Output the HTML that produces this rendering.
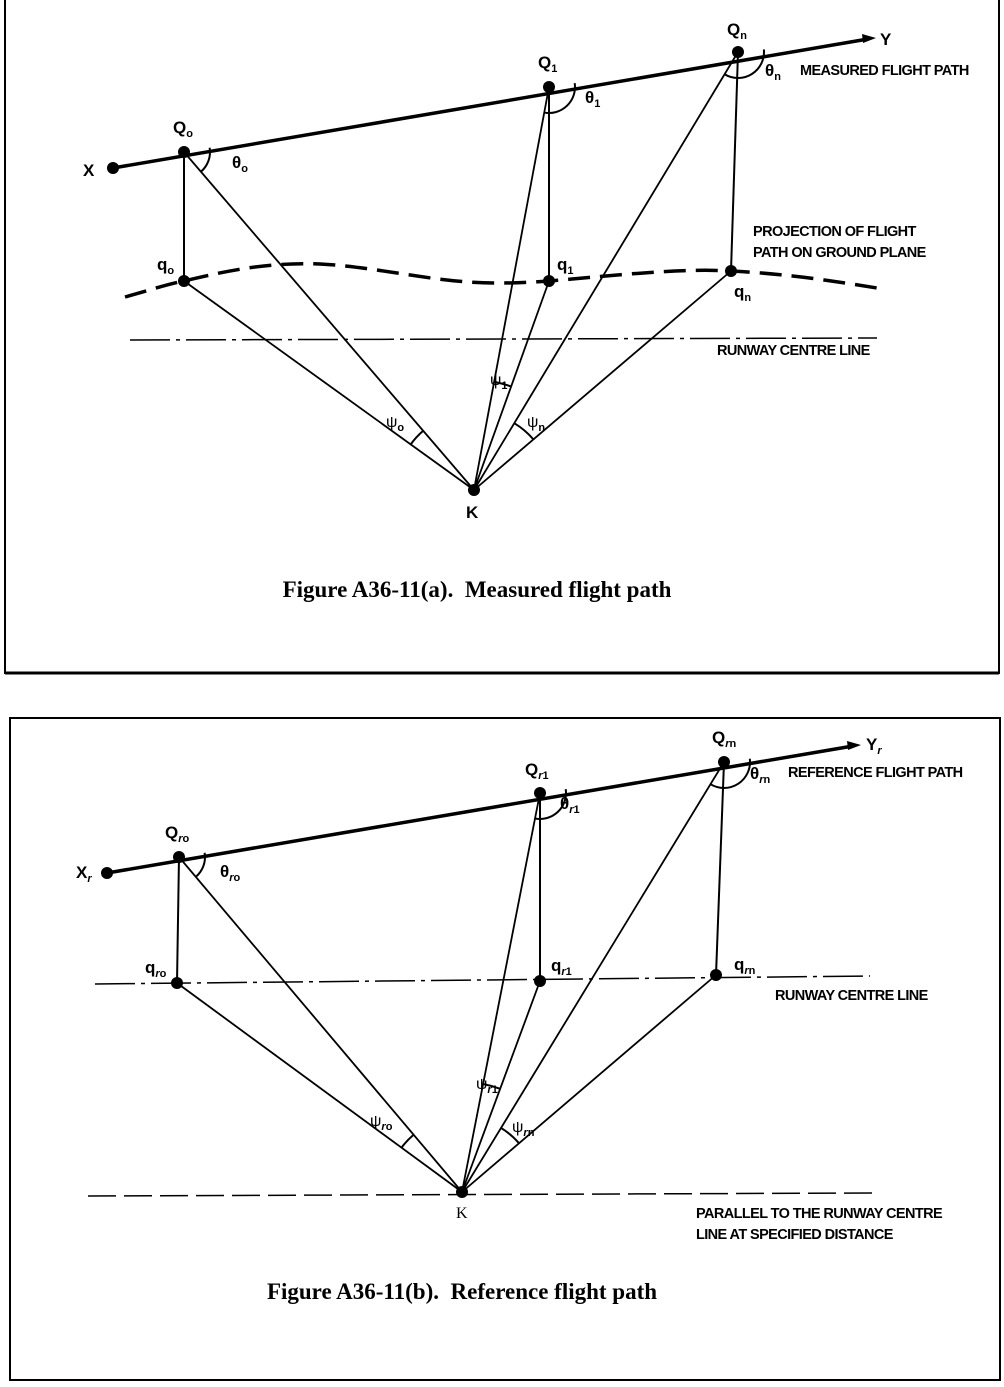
<!DOCTYPE html>
<html><head><meta charset="utf-8"><style>
body{margin:0;background:#fff}
svg{display:block}
text{font-family:"Liberation Sans",Arial,sans-serif;fill:#000}
.cap{font-family:"Liberation Serif",serif;font-weight:bold;font-size:23px}
.lb{font-size:14.5px;font-weight:bold;letter-spacing:-0.6px}
.pt{font-size:17px;font-weight:bold}
.sub{font-size:11px;font-weight:bold}
.ps{font-size:16px;font-weight:normal}
</style></head><body>
<svg id="s" width="1004" height="1387" viewBox="0 0 1004 1387" xmlns="http://www.w3.org/2000/svg">
<rect x="5" y="-2" width="994" height="675" fill="none" stroke="#000" stroke-width="2"/>
<line x1="5" y1="673" x2="999" y2="673" stroke="#000" stroke-width="3"/>
<rect x="10" y="718" width="990" height="662" fill="none" stroke="#000" stroke-width="2"/>
<g id="g"></g>
<text class="cap" x="477" y="597" text-anchor="middle">Figure A36-11(a).&#160; Measured flight path</text>
<text class="cap" x="462" y="1299" text-anchor="middle">Figure A36-11(b).&#160; Reference flight path</text>
<g>
<text class="pt" x="83" y="176">X</text>
<text class="pt" x="173" y="133">Q<tspan class="sub" dy="4">o</tspan></text>
<text class="pt" x="538" y="68">Q<tspan class="sub" dy="4">1</tspan></text>
<text class="pt" x="727" y="35">Q<tspan class="sub" dy="4">n</tspan></text>
<text class="pt" x="880" y="45">Y</text>
<text class="pt" x="232" y="168">θ<tspan class="sub" dy="4">o</tspan></text>
<text class="pt" x="585" y="103">θ<tspan class="sub" dy="4">1</tspan></text>
<text class="pt" x="765" y="76">θ<tspan class="sub" dy="4">n</tspan></text>
<text class="pt" x="157" y="270">q<tspan class="sub" dy="4">o</tspan></text>
<text class="pt" x="557" y="270">q<tspan class="sub" dy="4">1</tspan></text>
<text class="pt" x="734" y="297">q<tspan class="sub" dy="4">n</tspan></text>
<text class="pt ps" x="386" y="427">ψ<tspan class="sub" dy="4">o</tspan></text>
<text class="pt ps" x="490" y="385">ψ<tspan class="sub" dy="4">1</tspan></text>
<text class="pt ps" x="527" y="427">ψ<tspan class="sub" dy="4">n</tspan></text>
<text class="pt" x="466" y="518">K</text>
<text class="lb" x="800" y="75">MEASURED FLIGHT PATH</text>
<text class="lb" x="753" y="236">PROJECTION OF FLIGHT</text>
<text class="lb" x="753" y="257">PATH ON GROUND PLANE</text>
<text class="lb" x="717" y="355">RUNWAY CENTRE LINE</text>
</g>
<g>
<text class="pt" x="76" y="878">X<tspan class="sub" dy="4" font-style="italic">r</tspan></text>
<text class="pt" x="165" y="838">Q<tspan class="sub" dy="4"><tspan font-style="italic">r</tspan>o</tspan></text>
<text class="pt" x="525" y="775">Q<tspan class="sub" dy="4"><tspan font-style="italic">r</tspan>1</tspan></text>
<text class="pt" x="712" y="743">Q<tspan class="sub" dy="4"><tspan font-style="italic">r</tspan>n</tspan></text>
<text class="pt" x="866" y="750">Y<tspan class="sub" dy="4" font-style="italic">r</tspan></text>
<text class="pt" x="220" y="877">θ<tspan class="sub" dy="4"><tspan font-style="italic">r</tspan>o</tspan></text>
<text class="pt" x="560" y="809">θ<tspan class="sub" dy="4"><tspan font-style="italic">r</tspan>1</tspan></text>
<text class="pt" x="750" y="779">θ<tspan class="sub" dy="4"><tspan font-style="italic">r</tspan>n</tspan></text>
<text class="pt" x="145" y="973">q<tspan class="sub" dy="4"><tspan font-style="italic">r</tspan>o</tspan></text>
<text class="pt" x="551" y="971">q<tspan class="sub" dy="4"><tspan font-style="italic">r</tspan>1</tspan></text>
<text class="pt" x="734" y="970">q<tspan class="sub" dy="4"><tspan font-style="italic">r</tspan>n</tspan></text>
<text class="pt ps" x="370" y="1126">ψ<tspan class="sub" dy="4"><tspan font-style="italic">r</tspan>o</tspan></text>
<text class="pt ps" x="476" y="1089">ψ<tspan class="sub" dy="4"><tspan font-style="italic">r</tspan>1</tspan></text>
<text class="pt ps" x="512" y="1132">ψ<tspan class="sub" dy="4"><tspan font-style="italic">r</tspan>n</tspan></text>
<text x="456" y="1218" style="font-family:'Liberation Serif',serif;font-size:16px">K</text>
<text class="lb" x="788" y="777">REFERENCE FLIGHT PATH</text>
<text class="lb" x="775" y="1000">RUNWAY CENTRE LINE</text>
<text class="lb" x="696" y="1218">PARALLEL TO THE RUNWAY CENTRE</text>
<text class="lb" x="696" y="1239">LINE AT SPECIFIED DISTANCE</text>
</g>
</svg>
<script>
const NS="http://www.w3.org/2000/svg";
const g=document.getElementById('g');
function el(t,a){const e=document.createElementNS(NS,t);for(const k in a)e.setAttribute(k,a[k]);g.appendChild(e);return e;}
function line(a,b,w,dash,name){const e=el('line',{x1:a[0],y1:a[1],x2:b[0],y2:b[1],stroke:'#000','stroke-width':w});if(dash)e.setAttribute('stroke-dasharray',dash);

return e;}
function dot(p,name){const e=el('circle',{cx:p[0],cy:p[1],r:6,fill:'#000'});

}
function arc(c,a,b,r,name){let t1=Math.atan2(a[1]-c[1],a[0]-c[0]),t2=Math.atan2(b[1]-c[1],b[0]-c[0]);
let d=t2-t1;while(d>Math.PI)d-=2*Math.PI;while(d<-Math.PI)d+=2*Math.PI;
const p1=[c[0]+r*Math.cos(t1),c[1]+r*Math.sin(t1)],p2=[c[0]+r*Math.cos(t1+d),c[1]+r*Math.sin(t1+d)];
const e=el('path',{d:`M${p1[0]} ${p1[1]} A${r} ${r} 0 0 ${d>0?1:0} ${p2[0]} ${p2[1]}`,fill:'none',stroke:'#000','stroke-width':2});

}
function panel(P,pre){
 line(P.X,P.Yend,3.5,null,pre+'flight-path');
 el('polygon',{points:`${P.Yend[0]+8},${P.Yend[1]-1} ${P.Yend[0]-6},${P.Yend[1]-5} ${P.Yend[0]-5},${P.Yend[1]+4}`,fill:'#000'});
 if(P.curve){const e=el('path',{d:P.curve,fill:'none',stroke:'#000','stroke-width':3.5,'stroke-dasharray':'22 10'});
 
 }
 line(P.rw[0],P.rw[1],1.5,'40 6 4 6',pre+'runway-centre-line');
 if(P.par){line(P.par[0],P.par[1],1.5,'28 8',pre+'parallel-line');}
 for(let i=0;i<3;i++){
  line(P.Q[i],P.q[i],2,null,pre+'vertical-'+i);
  line(P.Q[i],P.K,1.8,null,pre+'slant-'+i);
  line(P.q[i],P.K,1.8,null,pre+'ground-line-'+i);
 }
 dot(P.X,pre+'point-x');P.Q.forEach((p,i)=>dot(p,pre+'point-Q'+i));P.q.forEach((p,i)=>dot(p,pre+'point-q'+i));dot(P.K,pre+'point-k');
 for(let i=0;i<3;i++){arc(P.Q[i],P.Yend,P.K,26,pre+'theta-'+i);arc(P.K,P.Q[i],P.q[i],P.ar[i],pre+'psi-'+i);}
}
panel({X:[113,168],Yend:[868,39],Q:[[184,152],[549,87],[738,52]],q:[[184,281],[549,281],[731,271]],K:[474,490],
 curve:'M125 297 C150 290 168 284 184 281 C230 270 270 262 320 264 C380 267 440 284 500 283 C520 283 535 282 549 281 C620 275 680 268 731 271 C790 274 840 282 877 288',
 rw:[[130,340],[877,338]],ar:[78,110,78]},'a-');
panel({X:[107,873],Yend:[853,746],Q:[[179,857],[540,793],[724,762]],q:[[177,983],[540,981],[716,975]],K:[462,1192],
 rw:[[95,984],[870,976]],par:[[88,1196],[877,1193]],ar:[75,110,75]},'b-');
</script>
</body></html>
